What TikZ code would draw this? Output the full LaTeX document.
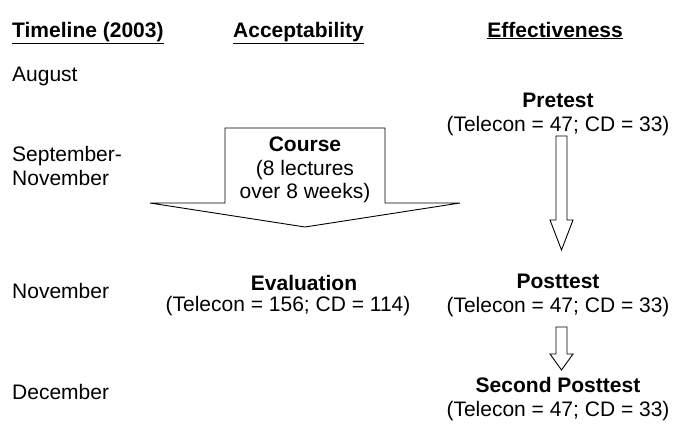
\documentclass[tikz,border=0pt]{standalone}
\usepackage{fontspec}
\setmainfont{Liberation Sans}
\begin{document}
\begin{tikzpicture}[x=1pt,y=-1pt]

      \useasboundingbox (0,0) rectangle (676,429);

      \begin{scope}[every node/.style={inner sep=0pt,font=\fontsize{21}{24}\selectfont}]
        % column heads
        \node[anchor=base west] (timehead)  at (12,37)  {\textbf{\underline{Timeline (2003)}}};
        \node[anchor=base west] (accephead) at (233,37) {\textbf{\underline{Acceptability}}};
        \node[anchor=base east] (effehead)  at (623,37) {\textbf{\underline{Effectiveness}}};

        % timeline
        \node[anchor=west] (aug)    at (12,76)  {August};
        \node[anchor=west,align=left] (sepnov) at (12,166) {September-\\November};
        \node[anchor=west] (nov)    at (12,291) {November};
        \node[anchor=west] (dec)    at (12,392) {December};

        % acceptability
        \node (evalhead) at (304,283) {\textbf{Evaluation}};
        \node (evalnum)  at (288,306) {(Telecon = 156; CD = 114)};

        % effectiveness
        \node[align=center] (pre)    at (558,114) {\textbf{Pretest}\\(Telecon = 47; CD = 33)};
        \node[align=center] (post)   at (558,295) {\textbf{Posttest}\\(Telecon = 47; CD = 33)};
        \node[align=center] (second) at (558,399) {\textbf{Second Posttest}\\(Telecon = 47; CD = 33)};
      \end{scope}

      \begin{scope}[line width=0.9pt,line join=miter]
        % course arrow
        \draw[fill=white] (225,128) -- (385,128) -- (385,203) -- (460,203)
          -- (305,227) -- (150,203) -- (225,203) -- cycle;
        \node[align=center,inner sep=0pt,font=\fontsize{21}{23.5}\selectfont] (course) at (305,170)
          {\textbf{Course}\\(8 lectures\\over 8 weeks)};

        % pretest to posttest
        \draw (556,136) -- (567,136) -- (567,220) -- (573,220)
          -- (561.5,250) -- (550,220) -- (556,220) -- cycle;
        % posttest to second posttest
        \draw (556,327) -- (567,327) -- (567,354) -- (573,354)
          -- (561.5,370) -- (550,354) -- (556,354) -- cycle;
      \end{scope}

    \end{tikzpicture}
\end{document}
